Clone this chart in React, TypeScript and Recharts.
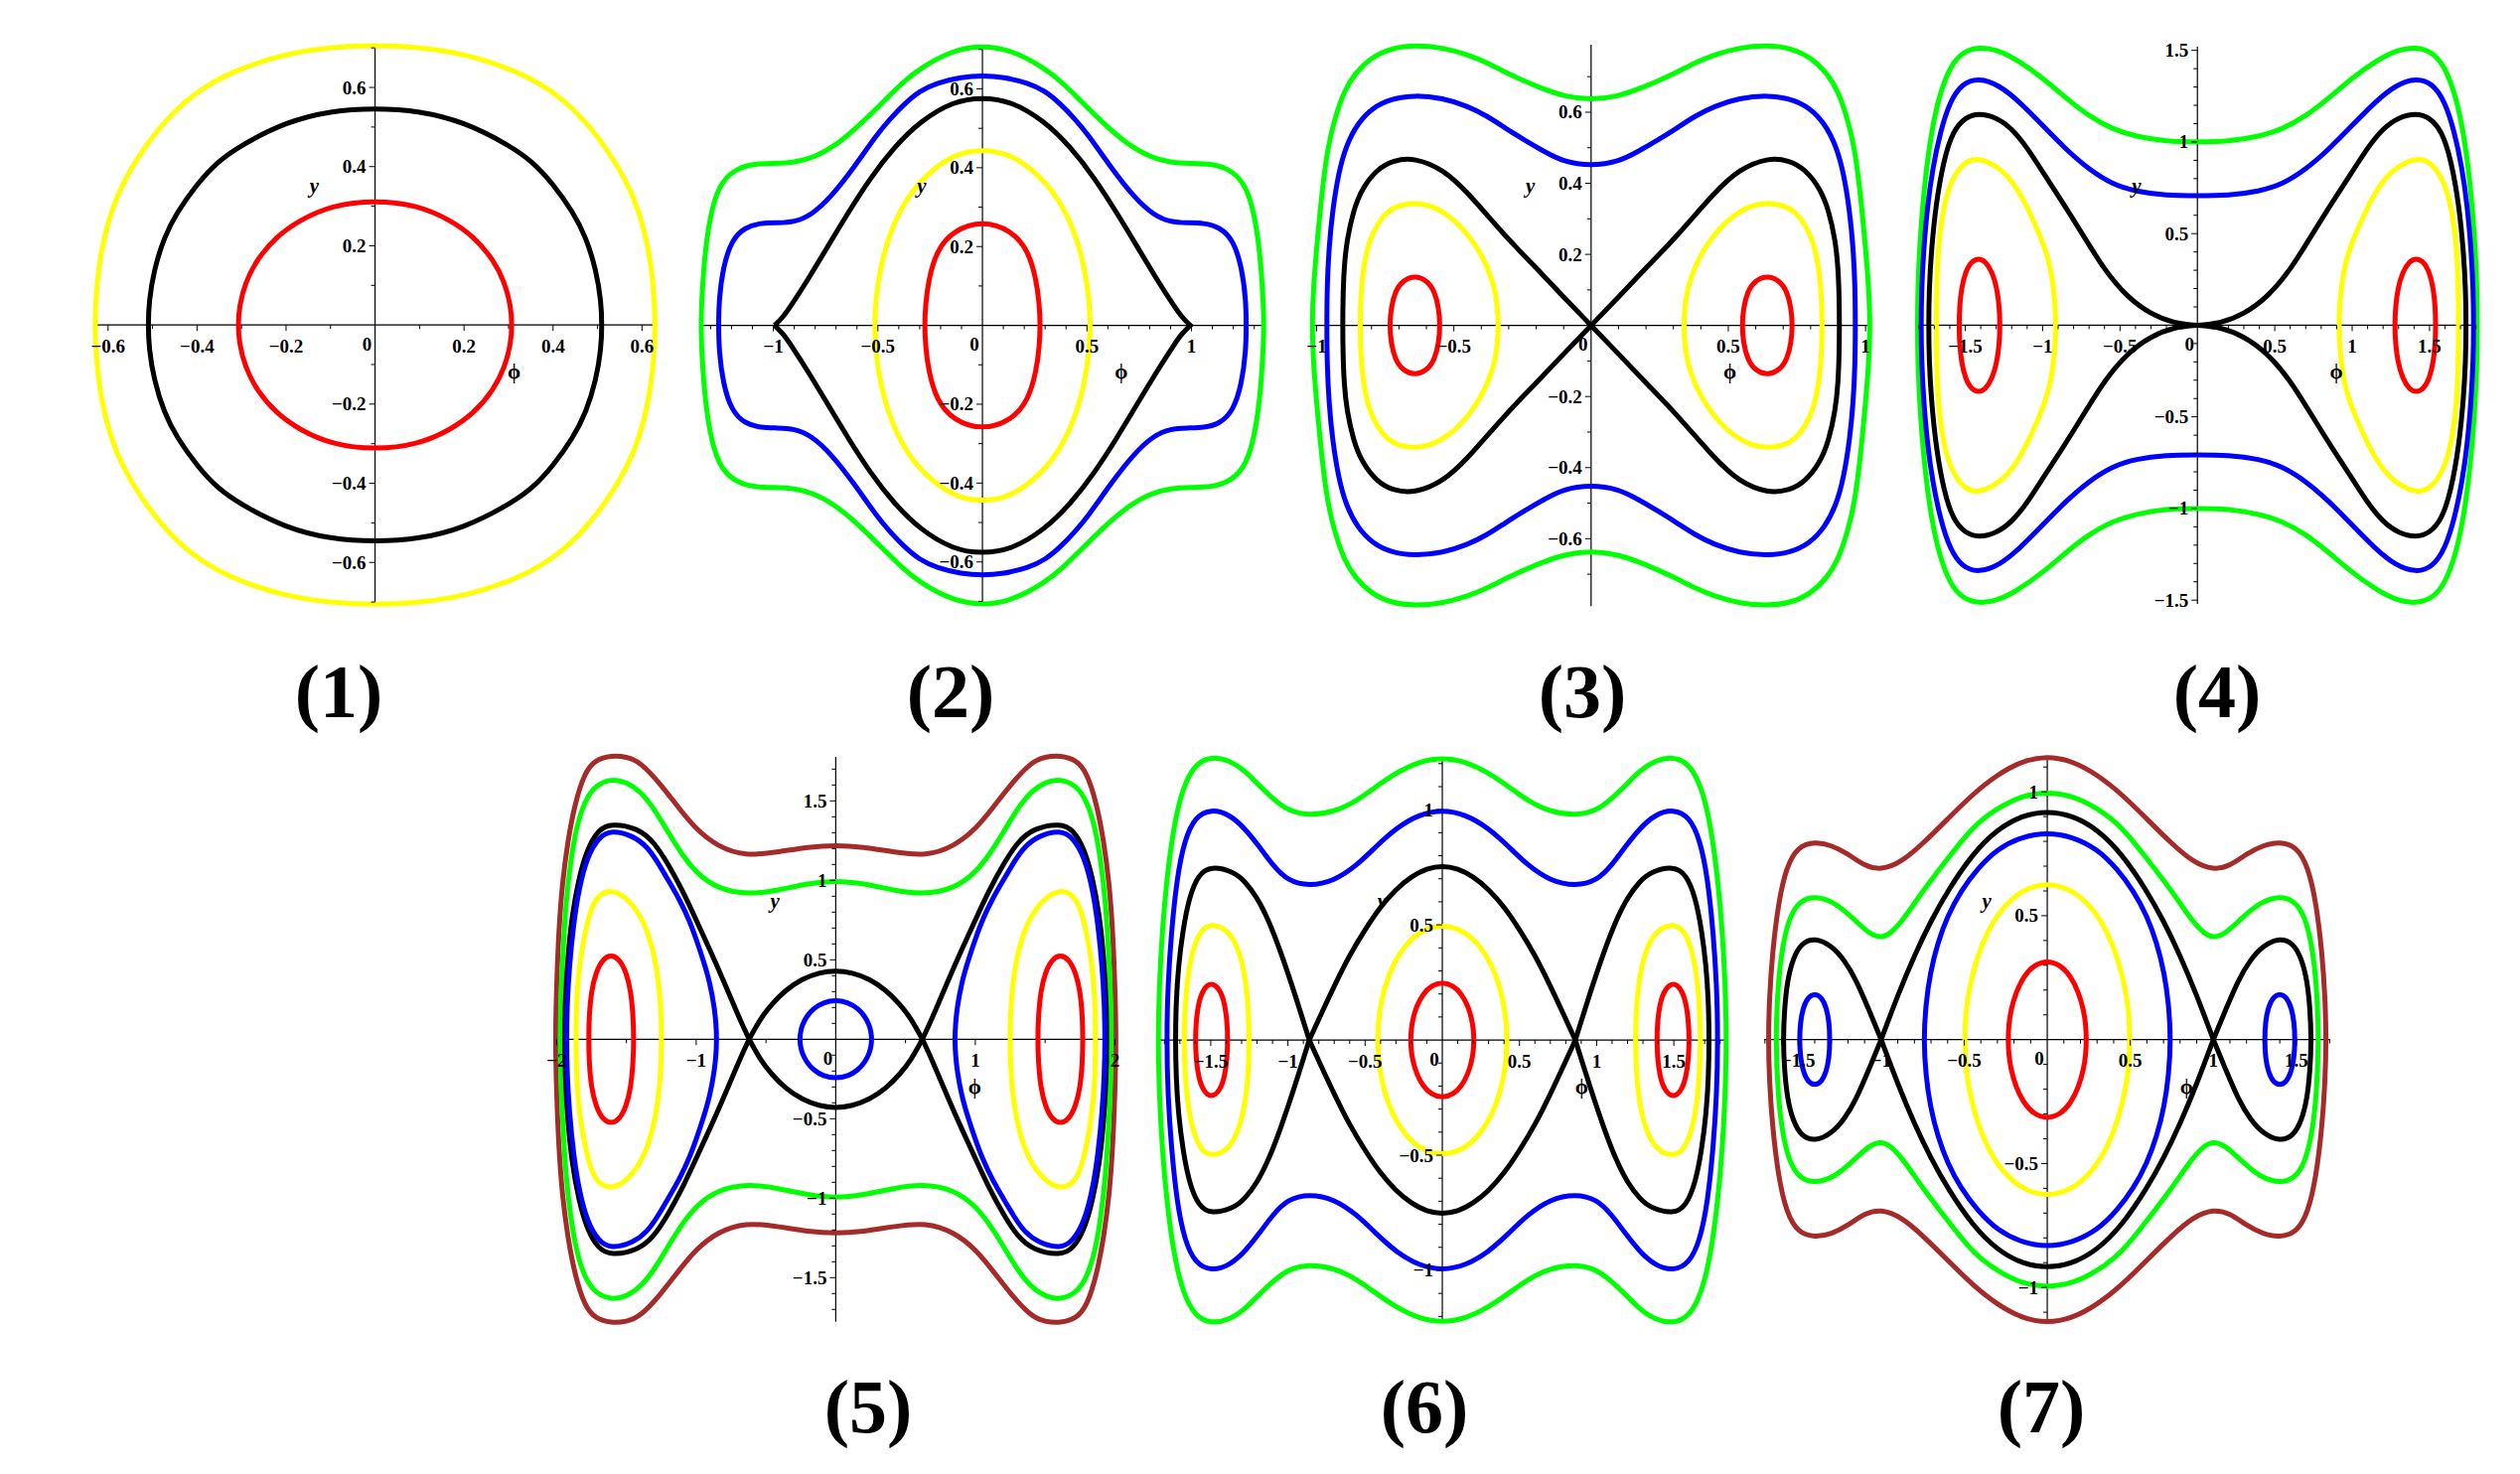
import { ReferenceLine, Scatter, ScatterChart, XAxis, YAxis } from 'recharts';

type Pt = [number, number];

// (1) quarter curves, from the top (x = 0) to the phi axis
const p1Yellow: Pt[] = [[0, 0.707], [0.1, 0.702], [0.207, 0.684], [0.318, 0.642], [0.393, 0.596], [0.459, 0.533], [0.519, 0.449], [0.564, 0.366], [0.593, 0.29], [0.616, 0.19], [0.627, 0.081], [0.63, 0]];
const p1Black: Pt[] = [[0, 0.548], [0.1, 0.541], [0.2, 0.513], [0.3, 0.455], [0.355, 0.412], [0.4, 0.356], [0.445, 0.285], [0.474, 0.222], [0.497, 0.138], [0.508, 0.06], [0.51, 0]];
const p1Red: Pt[] = [[0, 0.315], [0.095, 0.303], [0.17, 0.265], [0.222, 0.223], [0.266, 0.165], [0.292, 0.106], [0.305, 0.048], [0.308, 0]];

// (2)
const p2Red: Pt[] = [[0, 0.266], [0.139, 0.241], [0.219, 0.191], [0.258, 0.115], [0.272, 0.055], [0.277, 0]];
const p2Yellow: Pt[] = [[0, 0.448], [0.139, 0.434], [0.266, 0.384], [0.361, 0.325], [0.44, 0.241], [0.488, 0.149], [0.511, 0.065], [0.516, 0]];
const p2Black: Pt[] = [[0, 0.579], [0.139, 0.569], [0.298, 0.518], [0.424, 0.451], [0.535, 0.375], [0.646, 0.283], [0.741, 0.199], [0.836, 0.115], [0.915, 0.05], [0.955, 0.02], [0.994, 0]];
const p2Blue: Pt[] = [[0, 0.634], [0.1, 0.63], [0.219, 0.615], [0.3, 0.595], [0.377, 0.56], [0.44, 0.525], [0.504, 0.485], [0.614, 0.401], [0.725, 0.325], [0.82, 0.279], [0.9, 0.262], [0.98, 0.26], [1.058, 0.26], [1.137, 0.249], [1.2, 0.216], [1.24, 0.149], [1.26, 0.065], [1.262, 0]];
const p2Green: Pt[] = [[0, 0.71], [0.139, 0.699], [0.298, 0.653], [0.38, 0.617], [0.456, 0.577], [0.583, 0.51], [0.694, 0.459], [0.804, 0.426], [0.9, 0.413], [1.0, 0.411], [1.089, 0.41], [1.169, 0.4], [1.248, 0.367], [1.295, 0.3], [1.327, 0.191], [1.343, 0.065], [1.346, 0]];

// (3) right lobes as upper halves, left end to right end
const p3Red: Pt[] = [[0.55, 0], [0.555, 0.05], [0.57, 0.095], [0.595, 0.125], [0.642, 0.141], [0.689, 0.125], [0.714, 0.095], [0.729, 0.05], [0.734, 0]];
const p3Yellow: Pt[] = [[0.337, 0], [0.342, 0.06], [0.353, 0.11], [0.38, 0.17], [0.422, 0.228], [0.47, 0.275], [0.519, 0.31], [0.58, 0.337], [0.644, 0.345], [0.7, 0.338], [0.741, 0.322], [0.78, 0.285], [0.81, 0.235], [0.83, 0.165], [0.84, 0.08], [0.842, 0]];
const p3Black: Pt[] = [[0, 0], [0.1, 0.08], [0.2, 0.162], [0.312, 0.25], [0.45, 0.375], [0.54, 0.44], [0.644, 0.472], [0.72, 0.465], [0.78, 0.44], [0.835, 0.385], [0.866, 0.324], [0.89, 0.24], [0.9, 0.164], [0.904, 0.08], [0.905, 0]];
const p3Blue: Pt[] = [[0, 0.449], [0.1, 0.46], [0.173, 0.49], [0.25, 0.525], [0.312, 0.555], [0.38, 0.59], [0.45, 0.617], [0.54, 0.64], [0.644, 0.648], [0.73, 0.638], [0.796, 0.613], [0.85, 0.57], [0.893, 0.506], [0.92, 0.43], [0.942, 0.324], [0.955, 0.22], [0.962, 0.11], [0.963, 0]];
const p3Green: Pt[] = [[0, 0.634], [0.1, 0.645], [0.173, 0.665], [0.25, 0.69], [0.312, 0.712], [0.38, 0.74], [0.45, 0.762], [0.54, 0.782], [0.644, 0.789], [0.73, 0.78], [0.8, 0.755], [0.86, 0.71], [0.9, 0.66], [0.935, 0.58], [0.96, 0.5], [0.98, 0.38], [0.995, 0.26], [1.01, 0.13], [1.018, 0]];

// (4)
const p4Red: Pt[] = [[1.275, 0], [1.28, 0.1], [1.295, 0.2], [1.325, 0.29], [1.37, 0.35], [1.413, 0.366], [1.46, 0.35], [1.5, 0.29], [1.525, 0.2], [1.537, 0.1], [1.54, 0]];
const p4Yellow: Pt[] = [[0.914, 0], [0.92, 0.12], [0.935, 0.24], [0.951, 0.317], [0.985, 0.42], [1.025, 0.504], [1.08, 0.61], [1.147, 0.722], [1.22, 0.81], [1.295, 0.867], [1.413, 0.915], [1.5, 0.895], [1.57, 0.82], [1.614, 0.732], [1.65, 0.6], [1.676, 0.421], [1.685, 0.22], [1.688, 0]];
const p4Black: Pt[] = [[0, 0], [0.15, 0.01], [0.3, 0.06], [0.45, 0.15], [0.6, 0.3], [0.73, 0.48], [0.87, 0.67], [1.0, 0.836], [1.1, 0.97], [1.2, 1.075], [1.3, 1.135], [1.413, 1.158], [1.5, 1.135], [1.58, 1.06], [1.64, 0.9], [1.69, 0.66], [1.72, 0.4], [1.733, 0.2], [1.737, 0]];
const p4Blue: Pt[] = [[0, 0.707], [0.2, 0.708], [0.4, 0.73], [0.55, 0.77], [0.7, 0.85], [0.85, 0.96], [1.0, 1.09], [1.15, 1.22], [1.28, 1.31], [1.413, 1.35], [1.52, 1.32], [1.6, 1.22], [1.66, 1.06], [1.71, 0.86], [1.745, 0.65], [1.77, 0.4], [1.782, 0.2], [1.786, 0]];
const p4Green: Pt[] = [[0, 1.0], [0.2, 1.002], [0.4, 1.03], [0.55, 1.07], [0.7, 1.14], [0.85, 1.24], [1.0, 1.35], [1.15, 1.44], [1.28, 1.5], [1.413, 1.52], [1.52, 1.49], [1.6, 1.41], [1.67, 1.25], [1.72, 1.05], [1.76, 0.8], [1.79, 0.5], [1.805, 0.25], [1.81, 0]];

// (5)
const p5Red: Pt[] = [[1.447, 0], [1.452, 0.15], [1.468, 0.3], [1.5, 0.42], [1.55, 0.505], [1.61, 0.533], [1.67, 0.505], [1.72, 0.42], [1.752, 0.3], [1.767, 0.15], [1.771, 0]];
const p5Yellow: Pt[] = [[1.248, 0], [1.252, 0.15], [1.262, 0.3], [1.285, 0.45], [1.31, 0.56], [1.35, 0.68], [1.4, 0.78], [1.507, 0.9], [1.61, 0.94], [1.69, 0.915], [1.75, 0.84], [1.8, 0.66], [1.835, 0.48], [1.853, 0.3], [1.86, 0.15], [1.861, 0]];
const p5Blue: Pt[] = [[0.853, 0], [0.858, 0.1], [0.87, 0.2], [0.9, 0.35], [0.95, 0.5], [1.0, 0.63], [1.05, 0.75], [1.12, 0.88], [1.2, 1.0], [1.28, 1.12], [1.35, 1.21], [1.45, 1.28], [1.61, 1.318], [1.7, 1.27], [1.78, 1.15], [1.84, 0.95], [1.88, 0.72], [1.91, 0.45], [1.925, 0.22], [1.93, 0]];
const p5BlueSmall: Pt[] = [[0, 0.247], [0.09, 0.232], [0.16, 0.194], [0.21, 0.143], [0.24, 0.09], [0.253, 0.045], [0.258, 0]];
const p5BlackInner: Pt[] = [[0, 0.433], [0.12, 0.42], [0.24, 0.38], [0.36, 0.31], [0.46, 0.22], [0.54, 0.13], [0.621, 0]];
const p5BlackOuter: Pt[] = [[0.621, 0], [0.7, 0.15], [0.8, 0.36], [0.9, 0.56], [1.0, 0.75], [1.1, 0.94], [1.2, 1.1], [1.3, 1.24], [1.42, 1.33], [1.61, 1.359], [1.7, 1.32], [1.78, 1.2], [1.84, 1.02], [1.89, 0.78], [1.92, 0.52], [1.938, 0.26], [1.943, 0]];
const p5Green: Pt[] = [[0, 1.0], [0.2, 0.98], [0.4, 0.94], [0.621, 0.909], [0.85, 0.947], [1.0, 1.048], [1.1, 1.16], [1.2, 1.3], [1.3, 1.45], [1.4, 1.56], [1.5, 1.62], [1.61, 1.639], [1.72, 1.6], [1.8, 1.5], [1.86, 1.33], [1.9, 1.12], [1.935, 0.85], [1.955, 0.55], [1.97, 0.28], [1.976, 0]];
const p5Brown: Pt[] = [[0, 1.222], [0.2, 1.21], [0.4, 1.18], [0.65, 1.151], [0.85, 1.215], [1.0, 1.32], [1.125, 1.455], [1.25, 1.6], [1.4, 1.745], [1.5, 1.778], [1.61, 1.785], [1.72, 1.76], [1.8, 1.68], [1.87, 1.48], [1.92, 1.25], [1.96, 0.98], [1.985, 0.68], [2.0, 0.35], [2.01, 0]];

// (6)
const p6RedCenter: Pt[] = [[0, 0.252], [0.07, 0.237], [0.125, 0.2], [0.165, 0.15], [0.19, 0.095], [0.202, 0.045], [0.205, 0]];
const p6RedSide: Pt[] = [[1.39, 0], [1.394, 0.08], [1.41, 0.16], [1.44, 0.22], [1.498, 0.252], [1.55, 0.22], [1.58, 0.16], [1.595, 0.08], [1.6, 0]];
const p6YellowCenter: Pt[] = [[0, 0.503], [0.14, 0.475], [0.24, 0.414], [0.32, 0.328], [0.375, 0.23], [0.41, 0.12], [0.422, 0]];
const p6YellowSide: Pt[] = [[1.251, 0], [1.255, 0.12], [1.27, 0.24], [1.3, 0.35], [1.35, 0.44], [1.42, 0.49], [1.498, 0.503], [1.56, 0.48], [1.61, 0.41], [1.645, 0.3], [1.665, 0.17], [1.675, 0]];
const p6BlackCenter: Pt[] = [[0, 0.756], [0.1, 0.745], [0.2, 0.71], [0.3, 0.655], [0.4, 0.58], [0.5, 0.48], [0.6, 0.37], [0.7, 0.235], [0.78, 0.12], [0.862, 0]];
const p6BlackSide: Pt[] = [[0.862, 0], [0.95, 0.19], [1.05, 0.39], [1.125, 0.52], [1.2, 0.62], [1.28, 0.69], [1.35, 0.73], [1.498, 0.756], [1.58, 0.72], [1.64, 0.62], [1.68, 0.48], [1.71, 0.32], [1.725, 0.16], [1.729, 0]];
const p6Blue: Pt[] = [[0, 1.0], [0.15, 0.98], [0.3, 0.92], [0.43, 0.84], [0.55, 0.76], [0.7, 0.69], [0.862, 0.668], [1.0, 0.69], [1.1, 0.76], [1.18, 0.835], [1.28, 0.92], [1.38, 0.98], [1.498, 1.003], [1.6, 0.97], [1.67, 0.87], [1.72, 0.7], [1.755, 0.47], [1.778, 0.24], [1.786, 0]];
const p6Green: Pt[] = [[0, 1.226], [0.15, 1.21], [0.3, 1.16], [0.43, 1.1], [0.55, 1.04], [0.7, 0.99], [0.862, 0.974], [1.0, 0.995], [1.1, 1.05], [1.18, 1.1], [1.28, 1.17], [1.38, 1.215], [1.498, 1.231], [1.6, 1.2], [1.68, 1.1], [1.74, 0.93], [1.785, 0.7], [1.815, 0.47], [1.833, 0.24], [1.842, 0]];

// (7)
const p7RedCenter: Pt[] = [[0, 0.32], [0.08, 0.301], [0.14, 0.258], [0.19, 0.19], [0.22, 0.116], [0.232, 0.06], [0.236, 0]];
const p7YellowCenter: Pt[] = [[0, 0.635], [0.15, 0.605], [0.27, 0.534], [0.36, 0.439], [0.43, 0.32], [0.475, 0.19], [0.492, 0.1], [0.498, 0]];
const p7BlueCenter: Pt[] = [[0, 0.836], [0.15, 0.82], [0.3, 0.77], [0.42, 0.69], [0.52, 0.6], [0.6, 0.5], [0.66, 0.39], [0.705, 0.27], [0.732, 0.14], [0.744, 0]];
const p7BlueSide: Pt[] = [[1.309, 0], [1.313, 0.07], [1.33, 0.13], [1.36, 0.172], [1.4, 0.185], [1.44, 0.172], [1.47, 0.13], [1.487, 0.07], [1.492, 0]];
const p7BlackCenter: Pt[] = [[0, 0.922], [0.15, 0.905], [0.3, 0.85], [0.45, 0.75], [0.6, 0.6], [0.7, 0.48], [0.8, 0.34], [0.9, 0.18], [1.0, 0]];
const p7BlackSide: Pt[] = [[1.0, 0], [1.08, 0.13], [1.15, 0.24], [1.22, 0.32], [1.3, 0.38], [1.4, 0.411], [1.48, 0.39], [1.53, 0.33], [1.565, 0.24], [1.583, 0.12], [1.59, 0]];
const p7Green: Pt[] = [[0, 1.0], [0.15, 0.985], [0.3, 0.935], [0.45, 0.86], [0.6, 0.73], [0.75, 0.6], [0.87, 0.48], [0.95, 0.425], [1.0, 0.411], [1.07, 0.425], [1.17, 0.49], [1.28, 0.555], [1.4, 0.58], [1.49, 0.56], [1.55, 0.5], [1.595, 0.38], [1.622, 0.22], [1.636, 0]];
const p7Brown: Pt[] = [[0, 1.144], [0.15, 1.125], [0.3, 1.07], [0.45, 0.99], [0.6, 0.89], [0.75, 0.79], [0.88, 0.715], [1.0, 0.684], [1.1, 0.7], [1.2, 0.75], [1.3, 0.785], [1.4, 0.798], [1.5, 0.78], [1.57, 0.7], [1.62, 0.55], [1.655, 0.35], [1.673, 0.17], [1.68, 0]];

// labelled ticks
const p1Labels = [-0.6, -0.4, -0.2, 0.2, 0.4, 0.6];
const p2XLabels = [-1, -0.5, 0.5, 1];
const p2YLabels = [-0.6, -0.4, -0.2, 0.2, 0.4, 0.6];
const p3XLabels = [-1, -0.5, 0.5, 1];
const p3YLabels = [-0.6, -0.4, -0.2, 0.2, 0.4, 0.6];
const p4Labels = [-1.5, -1, -0.5, 0.5, 1, 1.5];
const p5XLabels = [-2, -1, 1, 2];
const p5YLabels = [-1.5, -1, -0.5, 0.5, 1, 1.5];
const p6XLabels = [-1.5, -1, -0.5, 0.5, 1, 1.5];
const p6YLabels = [-1, -0.5, 0.5, 1];
const p7XLabels = [-1.5, -1, -0.5, 0.5, 1, 1.5];
const p7YLabels = [-1, -0.5, 0.5, 1];

const YELLOW = '#ffff00';
const RED = '#ff0000';
const BLACK = '#000000';
const BLUE = '#0000ff';
const GREEN = '#00ff00';
const BROWN = '#a52a2a';

const SERIF = "'Liberation Serif', 'DejaVu Serif', serif";
const LINE_W = 5;

// mirror a quarter (top -> right end) into the upper half, left end -> right end
const upperFromQuarter = (q: Pt[]): Pt[] => [
  ...q.slice(1).reverse().map(([x, y]) => [-x, y] as Pt),
  ...q,
];

// close an upper half with its reflection in the phi axis; sharp ends get a tripled point
const loop = (upper: Pt[], sharpStart = false, sharpEnd = false): Pt[] => {
  const first = upper[0];
  const last = upper[upper.length - 1];
  const lower = upper.slice(1, -1).reverse().map(([x, y]) => [x, -y] as Pt);
  return [
    ...(sharpStart ? [first, first] : []),
    ...upper,
    ...(sharpEnd ? [last, last] : []),
    ...lower,
  ];
};

const mirrorX = (pts: Pt[]): Pt[] => pts.map(([x, y]) => [-x, y] as Pt);

const centered = (q: Pt[], sharp = false) => loop(upperFromQuarter(q), sharp, sharp);

interface Curve {
  pts: Pt[];
  color: string;
}

const pair = (half: Pt[], color: string, sharpStart = false): Curve[] => {
  const right = loop(half, sharpStart, false);
  return [
    { pts: right, color },
    { pts: mirrorX(right), color },
  ];
};

interface Panel {
  name: string;
  ox: number;
  oy: number;
  sx: number;
  sy: number;
  ax: number;
  ay: number;
  xStep: number;
  yStep: number;
  xLabels: number[];
  yLabels: number[];
  labelX: number;
  labelY: number;
  curves: Curve[];
}

const PANELS: Panel[] = [
  {
    name: '(1)', ox: 377.5, oy: 327.3, sx: 448, sy: 398.5, ax: 0.633, ay: 0.703,
    xStep: 0.1, yStep: 0.1, xLabels: p1Labels, yLabels: p1Labels, labelX: 341, labelY: 722,
    curves: [
      { pts: centered(p1Yellow), color: YELLOW },
      { pts: centered(p1Black), color: BLACK },
      { pts: centered(p1Red), color: RED },
    ],
  },
  {
    name: '(2)', ox: 988.9, oy: 327.3, sx: 210.5, sy: 396.9, ax: 1.34, ay: 0.707,
    xStep: 0.1, yStep: 0.1, xLabels: p2XLabels, yLabels: p2YLabels, labelX: 957, labelY: 722,
    curves: [
      { pts: centered(p2Green), color: GREEN },
      { pts: centered(p2Blue), color: BLUE },
      { pts: centered(p2Black, true), color: BLACK },
      { pts: centered(p2Yellow), color: YELLOW },
      { pts: centered(p2Red), color: RED },
    ],
  },
  {
    name: '(3)', ox: 1601.6, oy: 327.3, sx: 276.3, sy: 357.8, ax: 1.02, ay: 0.79,
    xStep: 0.1, yStep: 0.1, xLabels: p3XLabels, yLabels: p3YLabels, labelX: 1593, labelY: 722,
    curves: [
      { pts: centered(p3Green), color: GREEN },
      { pts: centered(p3Blue), color: BLUE },
      ...pair(p3Black, BLACK, true),
      ...pair(p3Yellow, YELLOW),
      ...pair(p3Red, RED),
    ],
  },
  {
    name: '(4)', ox: 2212, oy: 327.3, sx: 155.8, sy: 184.5, ax: 1.805, ay: 1.52,
    xStep: 0.1, yStep: 0.1, xLabels: p4Labels, yLabels: p4Labels, labelX: 2232, labelY: 722,
    curves: [
      { pts: centered(p4Green), color: GREEN },
      { pts: centered(p4Blue), color: BLUE },
      ...pair(p4Black, BLACK, true),
      ...pair(p4Yellow, YELLOW),
      ...pair(p4Red, RED),
    ],
  },
  {
    name: '(5)', ox: 841.2, oy: 1046.6, sx: 140.5, sy: 160, ax: 2.01, ay: 1.777,
    xStep: 0.5, yStep: 0.1, xLabels: p5XLabels, yLabels: p5YLabels, labelX: 874, labelY: 1442,
    curves: [
      { pts: centered(p5Brown), color: BROWN },
      { pts: centered(p5Green), color: GREEN },
      { pts: centered(p5BlackInner, true), color: BLACK },
      ...pair(p5BlackOuter, BLACK, true),
      ...pair(p5Blue, BLUE),
      { pts: centered(p5BlueSmall), color: BLUE },
      ...pair(p5Yellow, YELLOW),
      ...pair(p5Red, RED),
    ],
  },
  {
    name: '(6)', ox: 1452.3, oy: 1046.6, sx: 155.4, sy: 231.9, ax: 1.847, ay: 1.225,
    xStep: 0.1, yStep: 0.1, xLabels: p6XLabels, yLabels: p6YLabels, labelX: 1434, labelY: 1442,
    curves: [
      { pts: centered(p6Green), color: GREEN },
      { pts: centered(p6Blue), color: BLUE },
      { pts: centered(p6BlackCenter, true), color: BLACK },
      ...pair(p6BlackSide, BLACK, true),
      { pts: centered(p6YellowCenter), color: YELLOW },
      ...pair(p6YellowSide, YELLOW),
      { pts: centered(p6RedCenter), color: RED },
      ...pair(p6RedSide, RED),
    ],
  },
  {
    name: '(7)', ox: 2061.2, oy: 1046.6, sx: 167.2, sy: 249.5, ax: 1.705, ay: 1.141,
    xStep: 0.1, yStep: 0.1, xLabels: p7XLabels, yLabels: p7YLabels, labelX: 2055, labelY: 1442,
    curves: [
      { pts: centered(p7Brown), color: BROWN },
      { pts: centered(p7Green), color: GREEN },
      { pts: centered(p7BlackCenter, true), color: BLACK },
      ...pair(p7BlackSide, BLACK, true),
      { pts: centered(p7BlueCenter), color: BLUE },
      ...pair(p7BlueSide, BLUE),
      { pts: centered(p7YellowCenter), color: YELLOW },
      { pts: centered(p7RedCenter), color: RED },
    ],
  },
];

const PAD = 12;
// the axes keep a 1px band so that recharts still draws their ticks
const AXIS_BAND = 1;

const tickValues = (ext: number, step: number) => {
  const n = Math.floor(ext / step + 1e-9);
  return Array.from({ length: 2 * n + 1 }, (_, i) => Number(((i - n) * step).toFixed(4)));
};

const isLabelled = (v: number, labels: number[]) => labels.some((l) => Math.abs(l - v) < 1e-6);

const fmt = (v: number) => (v < 0 ? '\u2212' : '') + String(Math.abs(v));

const tickText = { fontFamily: SERIF, fontWeight: 700, fontSize: 19, fill: '#000' };

const noDot = () => <g />;

const PhasePanel = ({ panel }: { panel: Panel }) => {
  const dx = panel.ax + PAD / panel.sx;
  const dy = panel.ay + PAD / panel.sy;
  const plotW = 2 * dx * panel.sx;
  const plotH = 2 * dy * panel.sy;
  const cx = AXIS_BAND + plotW / 2;
  const cy = plotH / 2;

  const renderXTick = (props: any) => {
    const x = props.x as number;
    const v = props.payload.value as number;
    if (Math.abs(v) < 1e-9) {
      return (
        <text x={x - 8} y={cy + 19} textAnchor="middle" dominantBaseline="central" {...tickText}>
          0
        </text>
      );
    }
    const major = isLabelled(v, panel.xLabels);
    return (
      <g>
        <line x1={x} x2={x} y1={cy} y2={cy + (major ? 6 : 4)} stroke="#000" strokeWidth={1} />
        {major ? (
          <text x={x} y={cy + 21} textAnchor="middle" dominantBaseline="central" {...tickText}>
            {fmt(v)}
          </text>
        ) : null}
      </g>
    );
  };

  const renderYTick = (props: any) => {
    const y = props.y as number;
    const v = props.payload.value as number;
    if (Math.abs(v) < 1e-9) return <g />;
    const major = isLabelled(v, panel.yLabels);
    return (
      <g>
        <line x1={cx - (major ? 6 : 4)} x2={cx} y1={y} y2={y} stroke="#000" strokeWidth={1} />
        {major ? (
          <text x={cx - 9} y={y} textAnchor="end" dominantBaseline="central" {...tickText}>
            {fmt(v)}
          </text>
        ) : null}
      </g>
    );
  };

  const width = plotW + AXIS_BAND;
  const height = plotH + AXIS_BAND;

  return (
    <div
      style={{
        position: 'absolute',
        left: panel.ox - cx,
        top: panel.oy - cy,
        width,
        height,
      }}
    >
      <ScatterChart width={width} height={height} margin={{ top: 0, right: 0, bottom: 0, left: 0 }}>
        <XAxis
          type="number"
          dataKey="x"
          domain={[-dx, dx]}
          ticks={tickValues(panel.ax, panel.xStep)}
          interval={0}
          height={AXIS_BAND}
          axisLine={false}
          tickLine={false}
          tick={renderXTick}
        />
        <YAxis
          type="number"
          dataKey="y"
          domain={[-dy, dy]}
          ticks={tickValues(panel.ay, panel.yStep)}
          interval={0}
          width={AXIS_BAND}
          axisLine={false}
          tickLine={false}
          tick={renderYTick}
        />
        <ReferenceLine
          segment={[{ x: -panel.ax, y: 0 }, { x: panel.ax, y: 0 }]}
          stroke="#000"
          strokeWidth={1.2}
        />
        <ReferenceLine
          segment={[{ x: 0, y: -panel.ay }, { x: 0, y: panel.ay }]}
          stroke="#000"
          strokeWidth={1.2}
        />
        {panel.curves.map((c, i) => (
          <Scatter
            key={`${panel.name}-${i}`}
            data={c.pts.map(([x, y]) => ({ x, y }))}
            fill={c.color}
            line={{ stroke: c.color, strokeWidth: LINE_W }}
            lineType="joint"
            lineJointType="basisClosed"
            shape={noDot}
            isAnimationActive={false}
          />
        ))}
      </ScatterChart>
    </div>
  );
};

const App = () => (
  <div
    style={{
      position: 'absolute',
      left: 0,
      top: 0,
      width: 2537,
      height: 1484,
      background: '#fff',
      overflow: 'hidden',
    }}
  >
    {PANELS.map((p) => (
      <PhasePanel key={p.name} panel={p} />
    ))}
    <svg
      width={2537}
      height={1484}
      style={{ position: 'absolute', left: 0, top: 0, pointerEvents: 'none' }}
    >
      {PANELS.map((p) => (
        <g key={p.name}>
          <text
            x={p.ox - 61}
            y={p.oy - 140}
            textAnchor="middle"
            dominantBaseline="central"
            fontFamily={SERIF}
            fontStyle="italic"
            fontWeight={700}
            fontSize={21}
          >
            y
          </text>
          <text
            x={p.ox + 140}
            y={p.oy + 47}
            textAnchor="middle"
            dominantBaseline="central"
            fontFamily={SERIF}
            fontWeight={700}
            fontSize={21}
          >
            {'\u03d5'}
          </text>
          <text
            x={p.labelX}
            y={p.labelY}
            textAnchor="middle"
            fontFamily={SERIF}
            fontWeight={700}
            fontSize={76}
          >
            {p.name}
          </text>
        </g>
      ))}
    </svg>
  </div>
);

export default App;
